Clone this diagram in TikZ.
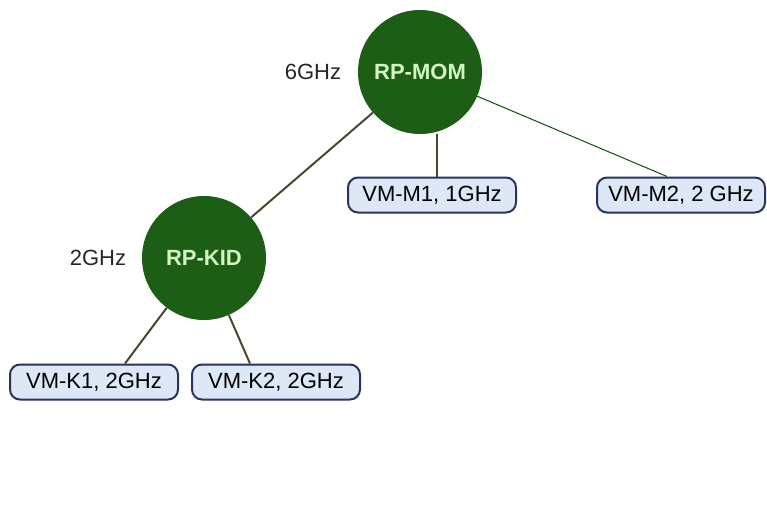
\documentclass[tikz,border=0pt]{standalone}
\usepackage{fontspec}
\setmainfont{Liberation Sans}
\definecolor{rpgreen}{RGB}{28,94,22}
\definecolor{rptext}{RGB}{212,244,196}
\definecolor{vmfill}{RGB}{221,231,246}
\definecolor{vmedge}{RGB}{40,52,92}
\definecolor{linkcol}{RGB}{74,72,48}
\begin{document}
\begin{tikzpicture}[x=1pt, y=1pt,
		rp/.style = {circle, fill = rpgreen, minimum size = 124pt, inner sep = 0pt,
			text = rptext, font = \fontsize{22}{24}\selectfont\bfseries},
		vm/.style = {draw = vmedge, line width = 2pt, fill = vmfill, rounded corners = 10pt,
			minimum width = 168pt, minimum height = 35pt, inner sep = 0pt,
			font = \fontsize{22}{24}\selectfont},
		ghz/.style = {font = \fontsize{22}{24}\selectfont, text = black!85},
		link/.style = {draw = linkcol, line width = 2pt}]
		\useasboundingbox (0,0) rectangle (767,-523);
		\node [rp] (mom) at (420, -72) {RP-MOM};
		\node [rp] (kid) at (204, -258) {RP-KID};
		\node [vm] (m1) at (432, -195) {VM-M1, 1GHz};
		\node [vm] (m2) at (681, -195) {VM-M2, 2 GHz};
		\node [vm] (k1) at (94, -382) {VM-K1, 2GHz};
		\node [vm] (k2) at (276, -382) {VM-K2, 2GHz};
		\node [ghz] (momghz) at (313, -72) {6GHz};
		\node [ghz] (kidghz) at (98, -258) {2GHz};
		\draw [link] (mom) -- (kid);
		\draw [link] ([xshift=17pt]mom.south) -- ([xshift=5pt]m1.north);
		\draw [draw = rpgreen!80!black, line width = 1pt] (mom) -- ([xshift=-14pt]m2.north);
		\draw [link] (kid) -- ([xshift=31pt]k1.north);
		\draw [link] (kid) -- ([xshift=-26pt]k2.north);
\end{tikzpicture}
\end{document}
